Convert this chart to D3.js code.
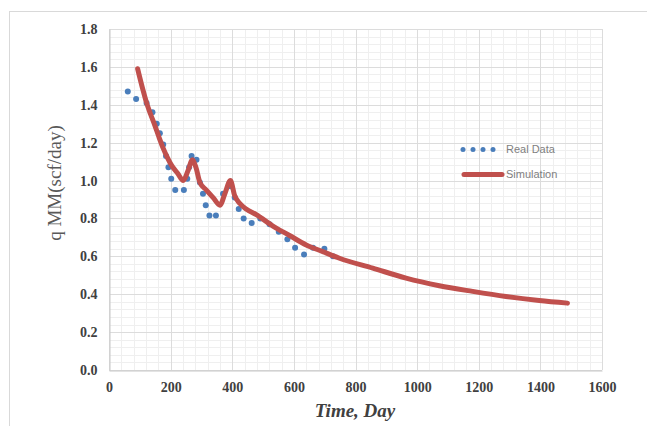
<!DOCTYPE html>
<html>
<head>
<meta charset="utf-8">
<script src="https://cdn.jsdelivr.net/npm/d3@7"></script>
<style>
  html, body { margin: 0; padding: 0; background: #fff; }
  svg { display: block; }
</style>
</head>
<body>
<svg id="chart" width="647" height="426"></svg>
<script>
// Measured gas rate (MMscf/day) against time (days)
const realDays  = [61, 88, 122, 141, 155, 165, 176, 185, 193, 202, 215, 243, 254, 260, 268, 284, 295, 305, 314, 326, 347, 370, 394, 408, 421, 437, 463, 491, 521, 551, 579, 604, 633, 662, 699, 727];
const realRates = [1.47, 1.43, 1.41, 1.36, 1.30, 1.25, 1.19, 1.13, 1.07, 1.01, 0.95, 0.95, 1.01, 1.07, 1.13, 1.11, 0.99, 0.93, 0.87, 0.815, 0.815, 0.93, 0.97, 0.91, 0.85, 0.80, 0.776, 0.80, 0.77, 0.73, 0.69, 0.645, 0.61, 0.645, 0.64, 0.60];

// Simulated rate curve
const simDays  = [93, 110, 122, 135, 149, 162, 176, 190, 203, 222, 241, 256, 271, 282, 295, 316, 338, 360, 376, 394, 408, 424, 445, 478, 532, 586, 640, 694, 748, 856, 964, 1072, 1180, 1288, 1396, 1488];
const simRates = [1.59, 1.48, 1.41, 1.35, 1.29, 1.23, 1.17, 1.12, 1.08, 1.04, 1.00, 1.05, 1.11, 1.07, 0.99, 0.95, 0.91, 0.87, 0.93, 1.00, 0.92, 0.88, 0.85, 0.82, 0.76, 0.71, 0.66, 0.625, 0.59, 0.538, 0.485, 0.445, 0.415, 0.388, 0.367, 0.353];

const xTicks = [0, 200, 400, 600, 800, 1000, 1200, 1400, 1600];
const yTicks = [0.0, 0.2, 0.4, 0.6, 0.8, 1.0, 1.2, 1.4, 1.6, 1.8];
const seriesNames = ["Real Data", "Simulation"];

const svg = d3.select("#chart");
const plotL = 109, plotR = 602, plotT = 29, plotB = 370;

const x = d3.scaleLinear().domain([0, 1600]).range([plotL, plotR]);
const y = d3.scaleLinear().domain([0, 1.8]).range([plotB, plotT]);

// outer chart frame
svg.append("rect")
  .attr("x", 9.5).attr("y", 11.5).attr("width", 700).attr("height", 500)
  .attr("fill", "#fff").attr("stroke", "#d9d9d9").attr("stroke-width", 1);

const grid = svg.append("g");
// minor gridlines (fifths of the major step)
const xMinor = d3.range(0, 1601, 40).filter(v => v % 200 !== 0);
const yMinor = d3.range(0, 46).map(i => i * 0.04).filter((v, i) => i % 5 !== 0);
grid.selectAll(".xm").data(xMinor).join("line")
  .attr("x1", d => Math.round(x(d)) + 0.5).attr("x2", d => Math.round(x(d)) + 0.5)
  .attr("y1", plotT).attr("y2", plotB)
  .attr("stroke", "#efefef");
grid.selectAll(".ym").data(yMinor).join("line")
  .attr("y1", d => Math.round(y(d)) + 0.5).attr("y2", d => Math.round(y(d)) + 0.5)
  .attr("x1", plotL).attr("x2", plotR)
  .attr("stroke", "#efefef");
// major gridlines
grid.selectAll(".xM").data(xTicks).join("line")
  .attr("x1", d => Math.round(x(d)) + 0.5).attr("x2", d => Math.round(x(d)) + 0.5)
  .attr("y1", plotT).attr("y2", plotB)
  .attr("stroke", "#dcdcdc");
grid.selectAll(".yM").data(yTicks).join("line")
  .attr("y1", d => Math.round(y(d)) + 0.5).attr("y2", d => Math.round(y(d)) + 0.5)
  .attr("x1", plotL).attr("x2", plotR)
  .attr("stroke", "#dcdcdc");

// axes
const xAxis = svg.append("g")
  .attr("transform", `translate(0,${Math.round(plotB) + 0.5})`)
  .call(d3.axisBottom(x).tickValues(xTicks).tickSize(0).tickPadding(12).tickFormat(d3.format("d")));
const yAxis = svg.append("g")
  .attr("transform", `translate(${plotL + 0.5},0)`)
  .call(d3.axisLeft(y).tickValues(yTicks).tickSize(0).tickPadding(12).tickFormat(d3.format(".1f")));
[xAxis, yAxis].forEach(a => {
  a.select(".domain").attr("stroke", "#c8c8c8");
  a.selectAll("text")
    .attr("font-family", "'Liberation Serif', 'Times New Roman', serif")
    .attr("font-weight", "bold")
    .attr("font-size", 14)
    .attr("fill", "#404040");
});

// axis titles
svg.append("text")
  .attr("x", 355).attr("y", 417)
  .attr("text-anchor", "middle")
  .attr("font-family", "'Liberation Serif', 'Times New Roman', serif")
  .attr("font-weight", "bold").attr("font-style", "italic")
  .attr("font-size", 19).attr("fill", "#404040")
  .text("Time, Day");
svg.append("text")
  .attr("transform", "translate(61,183) rotate(-90)")
  .attr("text-anchor", "middle")
  .attr("font-family", "'Liberation Serif', 'Times New Roman', serif")
  .attr("font-size", 19).attr("fill", "#595959")
  .text("q MM(scf/day)");

const blue = "#4a7ebb", red = "#c0504d";

// real data markers
const real = realDays.map((d, i) => ({ t: d, q: realRates[i] }));
svg.append("g").selectAll("circle").data(real).join("circle")
  .attr("cx", d => x(d.t)).attr("cy", d => y(d.q)).attr("r", 3)
  .attr("fill", blue);

// simulation curve
const sim = simDays.map((d, i) => ({ t: d, q: simRates[i] }));
svg.append("path").datum(sim)
  .attr("d", d3.line().x(d => x(d.t)).y(d => y(d.q)).curve(d3.curveMonotoneX))
  .attr("fill", "none").attr("stroke", red).attr("stroke-width", 5)
  .attr("stroke-linecap", "round").attr("stroke-linejoin", "round");

// legend
const lg = svg.append("g");
lg.selectAll("circle").data([463, 473, 483, 493]).join("circle")
  .attr("cx", d => d).attr("cy", 149.5).attr("r", 2.5).attr("fill", blue);
lg.append("line")
  .attr("x1", 464).attr("x2", 502).attr("y1", 174.5).attr("y2", 174.5)
  .attr("stroke", red).attr("stroke-width", 5).attr("stroke-linecap", "round");
lg.selectAll("text").data(seriesNames).join("text")
  .attr("x", 506).attr("y", (d, i) => 149.5 + i * 25)
  .attr("dy", "0.35em")
  .attr("font-family", "'Liberation Sans', Arial, sans-serif")
  .attr("font-size", 11).attr("fill", "#7f7f7f")
  .text(d => d);
</script>
</body>
</html>
